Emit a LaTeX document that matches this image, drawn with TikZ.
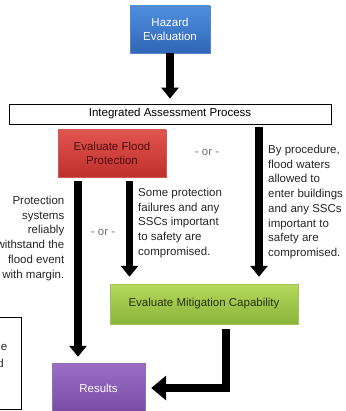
\documentclass[tikz,border=0pt]{standalone}
\usepackage{fontspec}
\setmainfont{Liberation Sans}
\usepackage{tikz}
\usepackage{xcolor}
\usetikzlibrary{shadows}
\usetikzlibrary{arrows.meta}
\usetikzlibrary{calc}

\definecolor{hazardtop}{HTML}{4F8FDE}
\definecolor{hazardbot}{HTML}{3066B6}
\definecolor{floodtop}{HTML}{E2544F}
\definecolor{floodbot}{HTML}{BE302C}
\definecolor{floodtext}{HTML}{4A0E0E}
\definecolor{mitigtop}{HTML}{B6D85C}
\definecolor{mitigbot}{HTML}{8AB53A}
\definecolor{mitigtext}{HTML}{2A3010}
\definecolor{resulttop}{HTML}{9C6EC6}
\definecolor{resultbot}{HTML}{774CA2}

\begin{document}
\begin{tikzpicture}[x=1pt, y=-1pt,
  every node/.style={font=\fontsize{11.5}{14.7}\selectfont},
  box/.style={rectangle, inner sep=2pt, align=center,
    drop shadow={opacity=0.25, shadow xshift=1pt, shadow yshift=-1pt}},
  bigarrow/.style={line width=8pt, -{Triangle[width=17pt, length=11pt]}},
  note/.style={inner sep=0pt, text=black!85},
  ortext/.style={inner sep=0pt, text=black!55}]
  \useasboundingbox (0,0) rectangle (345,411);

  \node[box, top color=hazardtop, bottom color=hazardbot, draw=hazardbot!80,
    text=white, minimum width=80pt, minimum height=47pt] (hazard) at (170,29.5) {Hazard\\Evaluation};
  \node[draw, line width=0.8pt, fill=white, minimum width=322pt, minimum height=20pt,
    inner sep=0pt] (iap) at (170,114) {Integrated Assessment Process};
  \node[box, top color=floodtop, bottom color=floodbot, draw=floodbot!80,
    text=floodtext, minimum width=108pt, minimum height=47pt] (flood) at (112,153.5) {Evaluate Flood\\Protection};
  \node[box, top color=mitigtop, bottom color=mitigbot, draw=mitigbot!80,
    text=mitigtext, minimum width=188pt, minimum height=40pt] (mitig) at (204,304) {Evaluate Mitigation Capability};
  \node[box, top color=resulttop, bottom color=resultbot, draw=resultbot!80,
    text=white, minimum width=93pt, minimum height=50pt] (results) at (98.5,388) {Results};

  \coordinate (lx) at (78,0);
  \coordinate (mx) at (129.5,0);
  \coordinate (rx) at (259,0);
  \coordinate (ex) at (226,0);

  \draw[bigarrow, shorten >=5pt] (hazard) -- (iap);
  \draw[bigarrow, shorten <=3pt, shorten >=7pt] (iap.south -| rx) -- (mitig.north -| rx);
  \draw[bigarrow, line width=7pt, shorten <=4pt, shorten >=7pt] (flood.south -| mx) -- (mitig.north -| mx);
  \draw[bigarrow, shorten <=4pt, shorten >=6pt] (flood.south -| lx) -- (results.north -| lx);
  \draw[bigarrow, -{Triangle[width=24pt, length=15pt]}, shorten <=5pt, shorten >=6pt]
    (mitig.south -| ex) |- (results.east);

  \node[ortext] (or1) at (207,152) {- or -};
  \node[ortext] (or2) at (103,232) {- or -};
  \node[note, anchor=north east, align=right] (reliable) at (64.5,196)
    {Protection\\systems\\reliably\\withstand the\\flood event\\with margin.};
  \node[note, anchor=north west, align=left] (somefail) at (138,188)
    {Some protection\\failures and any\\SSCs important\\to safety are\\compromised.};
  \node[note, anchor=north west, align=left] (procedure) at (268,145)
    {By procedure,\\flood waters\\allowed to\\enter buildings\\and any SSCs\\important to\\safety are\\compromised.};

  \draw[line width=0.8pt] (-10,317) rectangle (21,409);
  \node[note, anchor=east] (cut1) at (7.5,347) {e};
  \node[note, anchor=east] (cut2) at (4,363) {d};
\end{tikzpicture}
\end{document}
